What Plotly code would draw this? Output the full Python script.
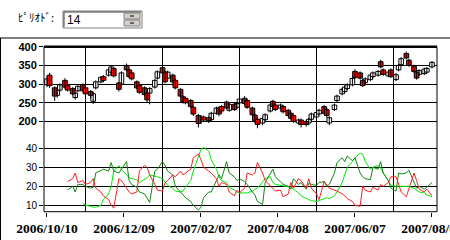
import plotly.graph_objects as go
import pandas as pd

# ---- data ----
dates = list(pd.bdate_range('2006-10-10', '2007-08-06')[::2])

opens = [298,324,290,270,284,310,296,288,264,282,
         298,290,280,254,290,306,320,324,332,342,
         303,300,350,338,330,306,296,290,276,276,
         292,316,344,332,316,324,310,286,266,262,
         256,238,216,200,212,210,205,222,236,240,
         252,230,246,238,250,262,256,236,217,206,
         196,205,228,254,244,236,240,230,222,216,
         196,204,200,196,206,212,220,240,232,196,
         232,256,274,280,288,298,334,330,310,304,
         312,320,324,360,338,322,338,312,338,352,
         382,364,348,332,326,328,332,346]
closes = [314,296,268,284,298,292,284,274,276,294,
          282,274,270,274,306,318,310,338,346,322,
          286,330,338,320,314,290,278,272,258,288,
          310,333,330,306,332,306,290,268,253,250,
          240,220,195,212,204,202,222,236,220,228,
          236,246,232,248,260,248,238,218,202,192,
          208,218,244,240,232,244,226,216,209,200,
          204,192,192,206,220,224,230,222,216,210,
          244,268,286,292,298,315,318,316,296,314,
          324,330,334,346,326,332,320,325,350,368,
          370,350,334,316,336,340,342,358]
highs = [322,330,294,288,302,316,300,292,280,298,
         302,294,284,278,310,322,324,342,350,346,
         306,334,355,342,334,310,300,294,280,292,
         314,337,350,336,336,328,314,290,270,266,
         260,242,220,216,216,214,226,240,240,244,
         256,250,250,252,264,268,260,240,222,210,
         212,222,248,258,248,248,244,234,226,220,
         208,208,204,210,224,228,234,244,236,214,
         248,272,290,296,302,320,340,334,314,318,
         328,334,338,365,342,336,342,330,354,372,
         387,368,352,336,340,344,346,362]
lows = [292,290,255,264,280,288,280,270,258,278,
        278,270,262,247,286,302,305,320,328,318,
        280,296,334,316,310,286,274,268,252,246,
        288,312,326,302,312,302,286,264,248,246,
        236,215,184,194,198,196,200,218,214,224,
        232,226,228,234,246,244,234,214,196,182,
        190,200,224,236,228,232,222,212,205,196,
        192,184,186,190,200,208,216,218,210,190,
        228,252,270,276,284,294,314,312,292,300,
        308,316,320,342,322,318,316,308,334,348,
        366,346,330,312,322,324,328,342]

plus_di = [None]*6 + [22.5,24,27,22,
           23,21,22,24,19,17,15,13,10,8.5,
           24,23,19,17,16,17,28,31,30,26,
           21,18,17.5,22,23,26,25,28,26,27,
           29,35,37,34,30,28,27,24,20,22,
           21,17,15,18,16.5,19,27,26,27,32.5,
           27,23,20,18.5,17.5,18,14.5,16,22,19,
           24,23,19,24,19,16,13,22.5,21,19,
           18,17.5,16,15,13.5,12,10,9.5,20,18,
           17,19.5,18,21,20,22,25,25,21,17,
           14.5,19,27,23,18.5,17,18.5,15]
minus_di = [None]*6 + [18,20,17,21,
            21,20,19,19.5,27,28.5,29,28,32.5,28,
            27,29,33,23,21,19.5,17,16,14,11.5,
            28,29,33,31,28,26,20,17,15.5,14,
            12,10,7.5,9,14,17,17,23.5,26,24,
            33,27,25,23,24,22.5,21,17,15.5,12,
            10.5,22,27,29,25,22,21,20,18.5,24,
            21,22,18.5,21.5,21,20.5,22,22.5,20,21,
            27,32.5,35,33,36,33.5,35,27,25,24,
            23.5,30,29,33,27,23,19,17.5,27,26.5,
            27,28.5,22,19,20,18.5,19.5,22]
adx = [None]*10 + [11,10,9.5,9,9,10,13,16,20,28,
       31,29,26,24.5,24,23.5,22,23.5,24.5,26,
       25.5,25,24,22.5,20.5,19,17.5,17,17.5,19.5,
       23,28,35,39.5,40.5,38.5,34,29,25,23,
       22,19.5,18,17,16.5,16.5,16.5,17.5,18.5,19,
       22,24,25,22,21,20.5,20.5,20,19.5,18.5,
       16.5,15,13.5,13,12.5,12,12.5,13.5,14,13.5,
       15,17,22,26,30,33,35,37.5,37,33,
       29,30,31,29.5,27,23,20.5,20,20,20,
       20,20,19,18,17,16.5,15.5,14.5]

upper_ticks = [200, 250, 300, 350, 400]
lower_ticks = [10, 20, 30, 40]
period_label = "ﾋﾟﾘｵﾄﾞ:"
period_value = "14"

n = min(len(dates), len(opens), len(closes), len(highs), len(lows))
dates = dates[:n]

W, H = 450, 240
def px(x): return x / W
def py(y): return 1 - y / H

DAY = 86400000
fig = go.Figure()

wx, wy = [], []
for d, h, l in zip(dates, highs[:n], lows[:n]):
    wx += [d, d, None]
    wy += [l, h, None]
fig.add_trace(go.Scatter(x=wx, y=wy, mode='lines', line=dict(color='black', width=1),
                         xaxis='x2', yaxis='y2', hoverinfo='skip', showlegend=False))

up_x, up_b, up_h, dn_x, dn_b, dn_h = [], [], [], [], [], []
for d, o, c in zip(dates, opens, closes):
    if c >= o:
        up_x.append(d); up_b.append(o); up_h.append(c - o)
    else:
        dn_x.append(d); dn_b.append(c); dn_h.append(o - c)

bw = 3.6 * DAY
fig.add_trace(go.Bar(x=dn_x, y=dn_h, base=dn_b, width=bw, offset=-1.0 * DAY,
                     marker=dict(color='rgba(255,120,120,0.5)', line=dict(width=0)),
                     xaxis='x2', yaxis='y2', hoverinfo='skip', showlegend=False))
fig.add_trace(go.Bar(x=up_x, y=up_h, base=up_b, width=bw,
                     marker=dict(color='white', line=dict(color='black', width=1)),
                     xaxis='x2', yaxis='y2', hoverinfo='skip', showlegend=False))
fig.add_trace(go.Bar(x=dn_x, y=dn_h, base=dn_b, width=bw,
                     marker=dict(color='#ff0000', line=dict(color='black', width=1)),
                     xaxis='x2', yaxis='y2', hoverinfo='skip', showlegend=False))

fig.add_trace(go.Scatter(x=dates, y=adx[:n], mode='lines', line=dict(color='#00ee00', width=1),
                         xaxis='x', yaxis='y', hoverinfo='skip', showlegend=False))
fig.add_trace(go.Scatter(x=dates, y=minus_di[:n], mode='lines', line=dict(color='#108a10', width=1),
                         xaxis='x', yaxis='y', hoverinfo='skip', showlegend=False))
fig.add_trace(go.Scatter(x=dates, y=plus_di[:n], mode='lines', line=dict(color='#ff2020', width=1),
                         xaxis='x', yaxis='y', hoverinfo='skip', showlegend=False))

x_dom = [px(44), px(437)]
y_low_dom = [py(211.7), py(137)]
y_up_dom = [py(137), py(46.7)]
x_range = ['2006-10-07 16:00', '2007-08-09 22:00']
minor = dict(tick0='2006-11-09', dtick=60 * DAY, showgrid=True, gridcolor='black', gridwidth=1)

fig.update_layout(
    width=W, height=H, autosize=False, margin=dict(l=0, r=0, t=0, b=0, pad=0, autoexpand=False),
    paper_bgcolor='white', plot_bgcolor='white', barmode='overlay',
    showlegend=False, hovermode=False,
    xaxis=dict(domain=x_dom, range=x_range, type='date', anchor='y', automargin=False,
               tick0='2006-10-10', dtick=60 * DAY, tickformat='%Y/%m/%d',
               ticks='outside', ticklen=4, tickcolor='black', ticklabeloverflow='allow',
               tickfont=dict(family='Liberation Serif', size=13.5, color='black', weight='bold'),
               showgrid=False, zeroline=False, showline=False, minor=minor),
    xaxis2=dict(domain=x_dom, range=x_range, type='date', anchor='y2', matches='x',
                automargin=False, showticklabels=False, ticks='', showgrid=False,
                zeroline=False, showline=False, minor=minor),
    yaxis=dict(domain=y_low_dom, range=[6.63, 45.95], tickvals=lower_ticks, automargin=False,
               ticks='outside', ticklen=4, tickcolor='black',
               tickfont=dict(family='Liberation Sans', size=10, color='black'),
               showgrid=True, gridcolor='black', gridwidth=1, zeroline=False, showline=False),
    yaxis2=dict(domain=y_up_dom, range=[158.6, 400], tickvals=upper_ticks, automargin=False,
                ticks='outside', ticklen=4, tickcolor='black',
                tickfont=dict(family='Liberation Sans', size=11, color='black', weight='bold'),
                showgrid=True, gridcolor='black', gridwidth=1, zeroline=False, showline=False),
)

shapes = [
    dict(type='line', xref='paper', yref='paper', x0=0, x1=1, y0=py(38), y1=py(38),
         line=dict(color='black', width=1)),
    dict(type='line', xref='paper', yref='paper', x0=px(0.5), x1=px(0.5), y0=0, y1=py(38),
         line=dict(color='black', width=1)),
    dict(type='rect', xref='paper', yref='paper', x0=x_dom[0], x1=x_dom[1],
         y0=y_low_dom[0], y1=y_up_dom[1], line=dict(color='black', width=1)),
    dict(type='line', xref='paper', yref='paper', x0=x_dom[0], x1=x_dom[1],
         y0=y_up_dom[1], y1=y_up_dom[1], line=dict(color='black', width=2.5)),
    dict(type='rect', xref='paper', yref='paper', x0=px(63), x1=px(142), y0=py(28), y1=py(11),
         line=dict(color='#808080', width=1), fillcolor='white'),
    dict(type='line', xref='paper', yref='paper', x0=px(64), x1=px(141), y0=py(12), y1=py(12),
         line=dict(color='#404040', width=1)),
    dict(type='line', xref='paper', yref='paper', x0=px(64), x1=px(64), y0=py(27), y1=py(12),
         line=dict(color='#404040', width=1)),
    dict(type='rect', xref='paper', yref='paper', x0=px(124), x1=px(140), y0=py(19), y1=py(13),
         line=dict(color='#808080', width=1), fillcolor='#d4d0c8'),
    dict(type='rect', xref='paper', yref='paper', x0=px(124), x1=px(140), y0=py(26), y1=py(20),
         line=dict(color='#808080', width=1), fillcolor='#d4d0c8'),
    dict(type='line', xref='paper', yref='paper', x0=px(130), x1=px(134), y0=py(16), y1=py(16),
         line=dict(color='black', width=1)),
    dict(type='line', xref='paper', yref='paper', x0=px(130), x1=px(134), y0=py(23), y1=py(23),
         line=dict(color='black', width=1)),
]
fig.update_layout(shapes=shapes)

fig.add_annotation(x=px(16), y=py(17), xref='paper', yref='paper', text=period_label,
                   showarrow=False, xanchor='left', yanchor='middle',
                   font=dict(family='Noto Sans CJK JP', size=11, color='black'))
fig.add_annotation(x=px(65), y=py(19.5), xref='paper', yref='paper', text=period_value,
                   showarrow=False, xanchor='left', yanchor='middle',
                   font=dict(family='Liberation Sans', size=12, color='black'))

fig.write_html("out.html", config=dict(displayModeBar=False, staticPlot=True))
